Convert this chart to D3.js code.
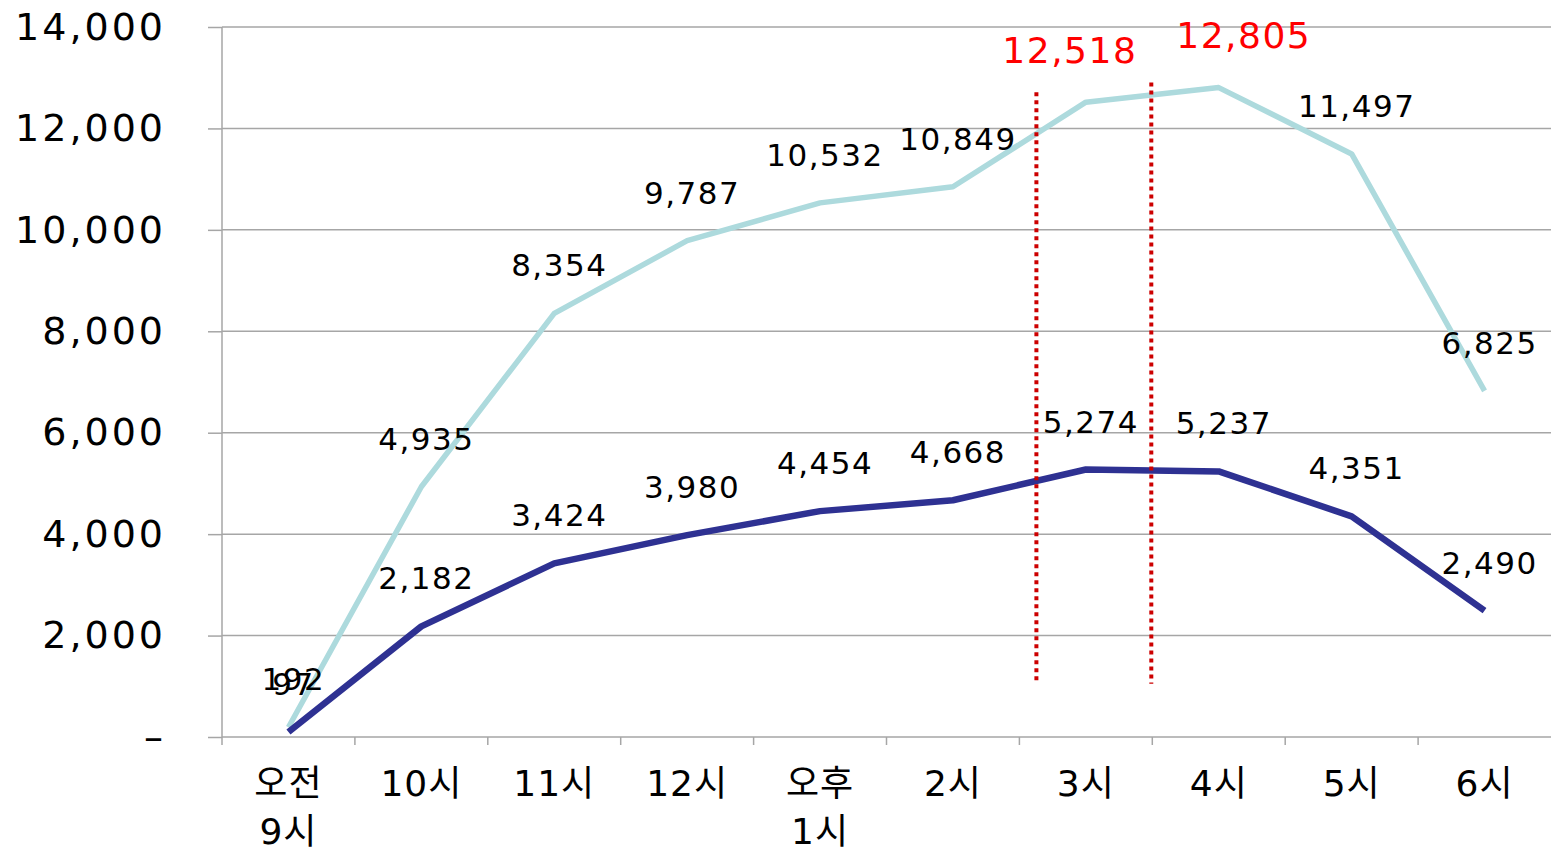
<!DOCTYPE html>
<html>
<head>
<meta charset="utf-8">
<script src="https://cdn.jsdelivr.net/npm/d3@7"></script>
<style>
  body { margin: 0; background: #fff; }
  svg { display: block; }
</style>
</head>
<body>
<svg id="chart" width="1551" height="854"></svg>
<script>
// categories (hour of day); "\n" splits a label onto two lines
const categories = ["오전\n9시", "10시", "11시", "12시", "오후\n1시", "2시", "3시", "4시", "5시", "6시"];
const totalValues = [192, 4935, 8354, 9787, 10532, 10849, 12518, 12805, 11497, 6825];
const partValues = [97, 2182, 3424, 3980, 4454, 4668, 5274, 5237, 4351, 2490];
const yTicks = [0, 2000, 4000, 6000, 8000, 10000, 12000, 14000];
const highlighted = ["3시", "4시"];

const width = 1551, height = 854;
const margin = { top: 27, right: 0, bottom: 117, left: 222 };

const svg = d3.select("#chart");
const fmt = d3.format(",");
const numFont = "'DejaVu Sans', 'Noto Sans CJK KR', sans-serif";

const x = d3.scaleBand()
  .domain(categories)
  .range([margin.left, width - margin.right]);

const y = d3.scaleLinear()
  .domain([0, 14000])
  .range([height - margin.bottom, margin.top]);

const cx = c => x(c) + x.bandwidth() / 2;

// horizontal grid lines
svg.append("g")
  .selectAll("line")
  .data(yTicks.filter(d => d > 0))
  .join("line")
  .attr("x1", margin.left)
  .attr("x2", width - margin.right)
  .attr("y1", d => y(d))
  .attr("y2", d => y(d))
  .attr("stroke", "#a6a6a6")
  .attr("stroke-width", 1.5);

// y axis
const yAxis = svg.append("g")
  .attr("transform", `translate(${margin.left},0)`)
  .call(d3.axisLeft(y).tickValues(yTicks).tickSize(14).tickPadding(42)
    .tickFormat(d => d === 0 ? "–" : fmt(d)));
yAxis.select(".domain").attr("stroke", "#a6a6a6").attr("stroke-width", 1.5)
  .attr("d", `M0,${margin.top}V${height - margin.bottom + 8}`);
yAxis.selectAll(".tick line").attr("stroke", "#a6a6a6").attr("stroke-width", 1.5);
yAxis.selectAll(".tick text")
  .attr("fill", "#000")
  .style("font-family", numFont)
  .style("font-size", "38px")
  .style("letter-spacing", "3px");

// x axis line + boundary ticks
const xg = svg.append("g");
xg.append("line")
  .attr("x1", margin.left).attr("x2", width - margin.right)
  .attr("y1", y(0)).attr("y2", y(0))
  .attr("stroke", "#a6a6a6").attr("stroke-width", 1.5);
xg.selectAll(".bound")
  .data(categories.slice(1))
  .join("line")
  .attr("class", "bound")
  .attr("x1", d => x(d)).attr("x2", d => x(d))
  .attr("y1", y(0)).attr("y2", y(0) + 8)
  .attr("stroke", "#a6a6a6").attr("stroke-width", 1.5);

const catText = xg.selectAll(".cat")
  .data(categories)
  .join("text")
  .attr("class", "cat")
  .attr("x", d => cx(d))
  .attr("y", y(0) + 59)
  .attr("text-anchor", "middle")
  .attr("fill", "#000")
  .style("font-family", numFont)
  .style("font-size", "36px")
  .style("letter-spacing", "1px");
catText.each(function (d) {
  d3.select(this).selectAll("tspan")
    .data(d.split("\n"))
    .join("tspan")
    .attr("x", cx(d))
    .attr("dy", (t, i) => i === 0 ? 0 : 48)
    .text(t => t);
});

// lines
const line = d3.line()
  .x(d => cx(d.cat))
  .y(d => y(d.value));

const totalData = categories.map((c, i) => ({ cat: c, value: totalValues[i] }));
const partData = categories.map((c, i) => ({ cat: c, value: partValues[i] }));

svg.append("path")
  .datum(totalData)
  .attr("fill", "none")
  .attr("stroke", "#addadd")
  .attr("stroke-width", 5.5)
  .attr("stroke-linejoin", "round")
  .attr("d", line);

svg.append("path")
  .datum(partData)
  .attr("fill", "none")
  .attr("stroke", "#2e3192")
  .attr("stroke-width", 6.5)
  .attr("stroke-linejoin", "round")
  .attr("d", line);

// red dotted markers around the peak hours
const markerX = [x("3시") + 17, x("4시") - 1];
const markerTop = [y(12518) - 10, y(12805) - 5];
svg.append("g")
  .selectAll("line")
  .data(markerX)
  .join("line")
  .attr("x1", d => d).attr("x2", d => d)
  .attr("y1", (d, i) => markerTop[i])
  .attr("y2", y(1050))
  .attr("stroke", "#cc0000")
  .attr("stroke-width", 4)
  .attr("stroke-dasharray", "4,4");

// data labels
const labelStyle = sel => sel
  .attr("text-anchor", "middle")
  .attr("dominant-baseline", "central")
  .style("font-family", numFont)
  .style("font-size", "31px")
  .style("letter-spacing", "1.5px");

svg.append("g")
  .selectAll("text")
  .data(partData)
  .join("text")
  .call(labelStyle)
  .attr("x", d => cx(d.cat) + 5)
  .attr("y", d => y(d.value) - 48)
  .attr("fill", "#000")
  .text(d => fmt(d.value));

svg.append("g")
  .selectAll("text")
  .data(totalData)
  .join("text")
  .call(labelStyle)
  .attr("x", d => {
    if (d.cat === highlighted[0]) return cx(d.cat) - 16;
    if (d.cat === highlighted[1]) return cx(d.cat) + 25;
    return cx(d.cat) + 5;
  })
  .attr("y", d => highlighted.includes(d.cat) ? y(d.value) - 52 : y(d.value) - 48)
  .attr("fill", d => highlighted.includes(d.cat) ? "#ff0000" : "#000")
  .style("font-size", d => highlighted.includes(d.cat) ? "36px" : "31px")
  .text(d => fmt(d.value));
</script>
</body>
</html>
